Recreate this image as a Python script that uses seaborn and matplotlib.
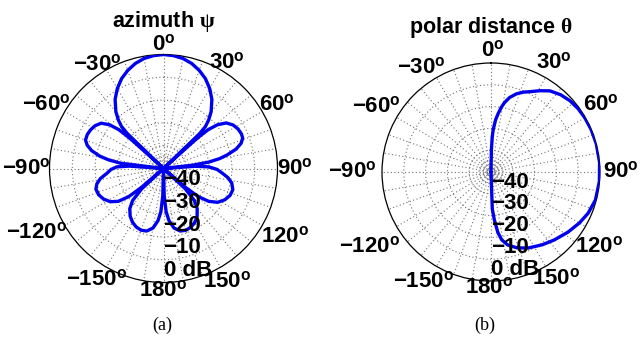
import numpy as np
import pandas as pd
import matplotlib
matplotlib.use("Agg")
import matplotlib.pyplot as plt
import seaborn as sns

# Azimuth pattern (deg, dB), -180..180
az_deg = [-180, -178.5, -176.5, -174, -170, -165, -160, -155, -150, -145, -140, -136, -133,
          -131.5, -130.5, -129, -126, -122, -117, -112, -107, -103, -99, -95, -91, -88, -86,
          -84.5, -83, -81, -79, -76, -73, -70, -66, -62, -58, -54, -51, -49, -48,
          -47, -46, -45, -43, -40, -35, -30, -25, -20, -15, -10, -5,
          0, 5, 10, 15, 20, 25, 30, 35, 40, 43, 45, 46,
          47, 48, 49, 51, 54, 58, 62, 66, 69, 72, 75, 78, 80, 82, 83.5,
          84.5, 86, 88, 91, 94, 98, 102, 107, 112, 117, 122, 126, 129, 130.5,
          131.5, 133, 136, 140, 145, 150, 155, 160, 165, 170, 174, 176.5, 178.5, 180]
az_db = [-50, -38, -31, -27, -23.5, -21.6, -21.2, -21.7, -22.8, -24.5, -27, -30.5, -37,
         -50, -37, -30.5, -25.5, -22.5, -20.5, -19.3, -19, -20, -22, -25, -27, -29.5, -35,
         -50, -31, -25.5, -21.5, -17.5, -15, -13.6, -13.4, -13.8, -14.6, -16.2, -19.5, -24, -30,
         -50, -28, -24, -21, -17.5, -13, -9.5, -6.5, -4.2, -2.3, -1.0, -0.3,
         0, -0.3, -1.0, -2.3, -4.2, -6.5, -9.5, -13, -17.5, -21, -24, -28,
         -50, -30, -24, -19.5, -16, -14, -13, -12.6, -12.8, -14.2, -17, -21.5, -25, -30, -37,
         -50, -36, -30, -26.5, -24.5, -21.5, -19.4, -18.2, -18.5, -19.8, -22, -25.5, -30.5, -37,
         -50, -37, -30.5, -27, -24.3, -22.6, -21.6, -21.2, -21.6, -23.5, -27, -31, -38, -50]

# Polar-distance pattern (deg, dB), 0..180
pd_deg = [0, 1, 2, 3, 5, 7, 9, 11, 14, 18, 22, 26, 31, 36, 42, 48, 54, 60, 67, 75, 85, 95,
          105, 113, 120, 128, 137, 145, 154, 161, 167, 171, 173.5, 176, 178, 180]
pd_db = [-50, -40, -34, -30.5, -26, -23, -20, -17.6, -14.8, -12.3, -10.5, -9, -6.5, -4,
         -2.3, -1.2, -0.6, -0.3, -0.1, 0, 0, -0.1, -0.4, -1.6, -3.2, -5.2, -7.4, -9.2,
         -11.2, -13.2, -15.6, -18.5, -22, -28, -33, -50]

ring_db = [-48.75, -47.5, -46.25, -44.5, -40, -30, -20, -10]
rlabel_db = [-40, -30, -20, -10, 0]
rlabel_text = ["\u221240", "\u221230", "\u221220", "\u221210", "0 dB"]
theta_label_deg = [0, 30, 60, 90, 120, 150, 180, 210, 240, 270, 300, 330]
theta_label_text = ["0", "30", "60", "90", "120", "150", "180",
                    "\u2212150", "\u2212120", "\u221290", "\u221260", "\u221230"]

R_MIN, R_MAX = -50, 0

# where each angle label sits: (direction in degrees, distance as a multiple of the rim radius)
LEFT_LABEL_POS = {0: (0, 1.08), 30: (31, 1.08), 60: (60.8, 1.14), 90: (90, 1.15),
                  120: (119.4, 1.22), 150: (150.8, 1.14), 180: (180, 1.07),
                  210: (211, 1.14), 240: (243, 1.245), 270: (270, 1.20),
                  300: (298.6, 1.165), 330: (327.3, 1.08)}
RIGHT_LABEL_POS = {0: (1, 1.11), 30: (30, 1.155), 60: (58.7, 1.18), 90: (90, 1.19),
                   120: (124.8, 1.21), 150: (148.5, 1.15), 180: (181, 1.06),
                   210: (211.4, 1.18), 240: (238.4, 1.31), 270: (270, 1.27),
                   300: (299.5, 1.21), 330: (326, 1.15)}

sns.set_style("white")
plt.rcParams.update({
    "font.family": ["Liberation Sans", "DejaVu Sans"],
    "font.weight": "bold",
    "text.color": "black",
    "xtick.color": "black",
    "ytick.color": "black",
    "axes.labelcolor": "black",
    "mathtext.fontset": "custom",
    "mathtext.rm": "Liberation Sans:bold",
    "mathtext.bf": "Liberation Sans:bold",
    "mathtext.it": "Liberation Serif",
})

W, H = 642, 345
fig = plt.figure(figsize=(W / 100, H / 100), dpi=100)
fig.patch.set_facecolor("white")


def polar_panel(rect_px, deg, db, label_pos, title, title_y, caption, cap_x):
    x0, y0, size = rect_px
    ax = fig.add_axes([x0 / W, (H - y0 - size) / H, size / W, size / H], projection="polar")
    ax.set_theta_zero_location("N")
    ax.set_theta_direction(-1)
    df = pd.DataFrame({"theta": np.deg2rad(deg), "level": db})
    sns.lineplot(data=df, x="theta", y="level", ax=ax, sort=False, estimator=None,
                 color="#0000ee", linewidth=2.4, zorder=3)
    ax.set_ylim(R_MIN, R_MAX)
    ax.set_yticks(ring_db)
    ax.set_yticklabels([])
    ax.set_xticks(np.deg2rad(np.arange(0, 360, 10)))
    ax.set_xticklabels([])
    ax.grid(True, color="0.45", linestyle=(0, (1, 2.2)), linewidth=0.8)
    ax.spines["polar"].set_color("black")
    ax.spines["polar"].set_linewidth(0.9)
    ax.set_xlabel("")
    ax.set_ylabel("")

    # angle labels around the rim
    for t, s in zip(theta_label_deg, theta_label_text):
        direction, dist = label_pos[t]
        r = R_MIN + dist * (R_MAX - R_MIN)
        ax.text(np.deg2rad(direction), r, s + "$^{\\mathbf{o}}$", ha="center", va="center",
                fontsize=16, fontweight="bold", color="black", clip_on=False)

    # level labels below the pole
    for v, t in zip(rlabel_db, rlabel_text):
        ax.annotate(t, xy=(np.pi, v), xytext=(0, 4.5), textcoords="offset points",
                    ha="left", va="baseline", fontsize=16, fontweight="bold",
                    color="black", zorder=5, annotation_clip=False)

    cx = (x0 + size / 2) / W
    fig.text(cx, 1 - title_y / H, title, ha="center", va="center",
             fontsize=15.5, fontweight="bold", color="black")
    fig.text(cap_x / W, 1 - 325 / H, caption, ha="center", va="center",
             fontsize=13, fontweight="normal", family="Liberation Serif", color="black")
    return ax


polar_panel((49.5, 54.5, 228), az_deg, az_db, LEFT_LABEL_POS, "azimuth $\\psi$", 21, "(a)", 162)
polar_panel((382, 63, 218), pd_deg, pd_db, RIGHT_LABEL_POS, "polar distance $\\theta$", 27, "(b)", 485)

fig.savefig("out.png", dpi=100, facecolor="white")
